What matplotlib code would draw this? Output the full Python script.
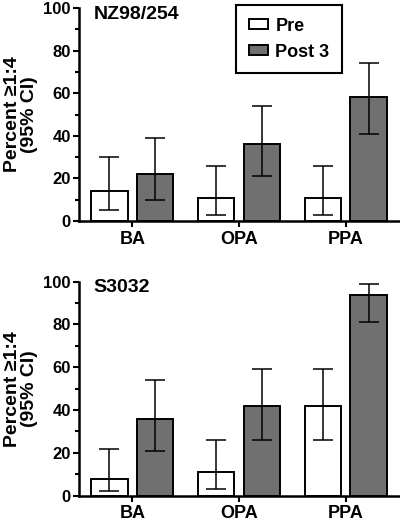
import matplotlib
matplotlib.use("Agg")
import matplotlib.pyplot as plt
import numpy as np
from matplotlib.ticker import MultipleLocator

plt.rcParams['font.family'] = ['Liberation Sans', 'DejaVu Sans']
plt.rcParams['font.weight'] = 'bold'

categories = ["BA", "OPA", "PPA"]
series_names = ["Pre", "Post 3"]

titles = ["NZ98/254", "S3032"]
pre_vals = [[14, 11, 11], [8, 11, 42]]
pre_lo = [[5, 3, 3], [2, 3, 26]]
pre_hi = [[30, 26, 26], [22, 26, 59]]
post_vals = [[22, 36, 58], [36, 42, 94]]
post_lo = [[10, 21, 41], [21, 26, 81]]
post_hi = [[39, 54, 74], [54, 59, 99]]

yticks = [0, 20, 40, 60, 80, 100]
ylabel = "Percent \u22651:4\n(95% CI)"

fig = plt.figure(figsize=(4.0, 5.22), dpi=100)
axes_rects = [[0.1975, 0.5766, 0.8, 0.408], [0.1975, 0.0504, 0.8, 0.410]]

gray = "#707070"
width = 0.34
off = 0.215

for i, rect in enumerate(axes_rects):
    ax = fig.add_axes(rect)
    x = np.arange(len(categories))
    pv = np.array(pre_vals[i]); qv = np.array(post_vals[i])
    perr = [pv - np.array(pre_lo[i]), np.array(pre_hi[i]) - pv]
    qerr = [qv - np.array(post_lo[i]), np.array(post_hi[i]) - qv]
    ax.bar(x - off, pv, width, color="white", edgecolor="black", linewidth=1.4,
           label=series_names[0], zorder=2)
    ax.bar(x + off, qv, width, color=gray, edgecolor="black", linewidth=1.4,
           label=series_names[1], zorder=2)
    ax.errorbar(x - off, pv, yerr=perr, fmt="none", ecolor="black", elinewidth=1.1,
                capsize=7.5, capthick=1.1, zorder=3)
    ax.errorbar(x + off, qv, yerr=qerr, fmt="none", ecolor="black", elinewidth=1.1,
                capsize=7.5, capthick=1.1, zorder=3)
    ax.set_xlim(-0.5, 2.5)
    ax.set_ylim(0, 100)
    ax.set_yticks(yticks)
    ax.set_yticklabels([str(t) for t in yticks], fontsize=12, fontweight="bold")
    ax.yaxis.set_minor_locator(MultipleLocator(10))
    ax.set_xticks(x)
    ax.set_xticklabels(categories, fontsize=13, fontweight="bold")
    ax.tick_params(axis="y", which="major", length=4, width=1.5, pad=2)
    ax.tick_params(axis="y", which="minor", length=3, width=1.5)
    ax.tick_params(axis="x", which="major", length=4, width=1.5, pad=3)
    for s in ["top", "right"]:
        ax.spines[s].set_visible(False)
    for s in ["left", "bottom"]:
        ax.spines[s].set_linewidth(1.8)
    ax.set_ylabel(ylabel, fontsize=14, fontweight="bold", linespacing=1.0, labelpad=4)
    ax.text(0.045, 0.972, titles[i], transform=ax.transAxes, fontsize=14,
            fontweight="bold", va="center", ha="left")
    if i == 0:
        leg = ax.legend(loc="upper left", bbox_to_anchor=(0.492, 1.014),
                        borderaxespad=0, fancybox=False, edgecolor="black",
                        framealpha=1, prop={"size": 13, "weight": "bold"},
                        handlelength=1.05, handleheight=0.5, handletextpad=0.4,
                        labelspacing=0.5, borderpad=0.7)
        leg.get_frame().set_linewidth(1.5)

fig.savefig("out.png", dpi=100)
